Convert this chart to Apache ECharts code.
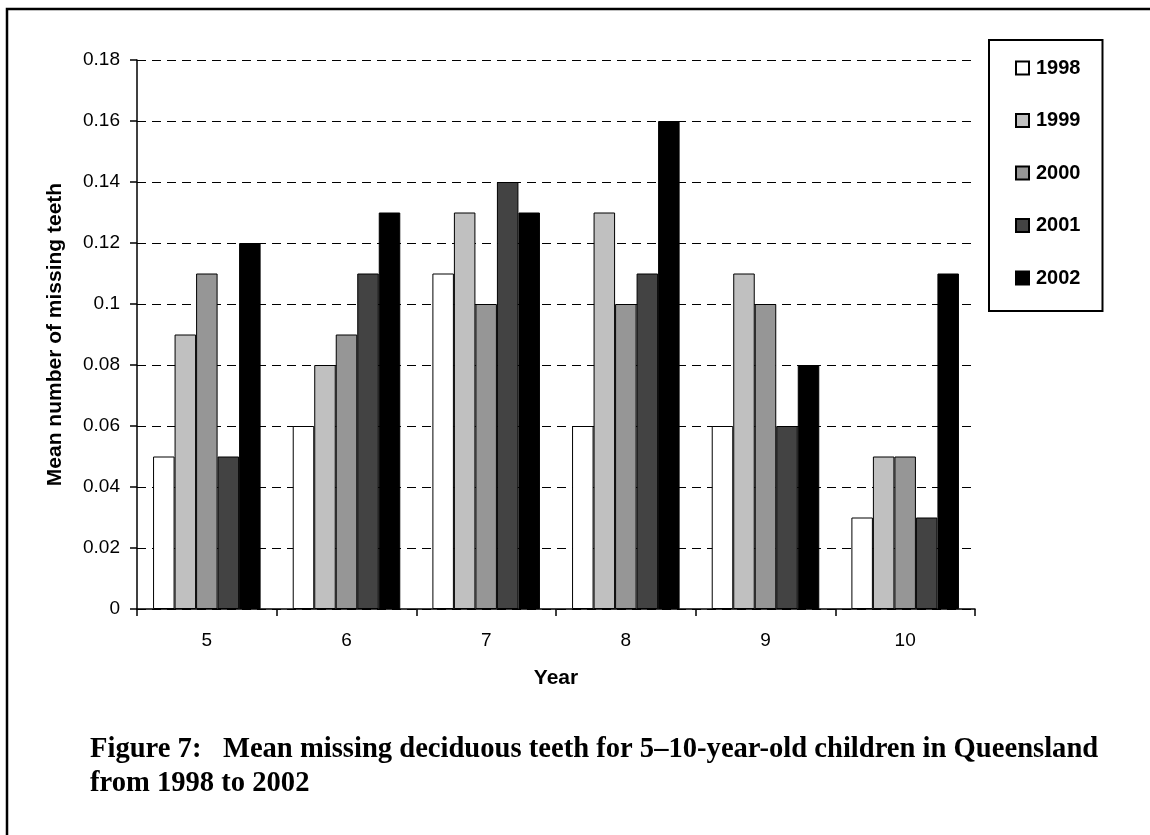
<!DOCTYPE html>
<html>
<head>
<meta charset="utf-8">
<style>
  html, body { margin: 0; padding: 0; background: #fff; }
  #chart { width: 1150px; height: 835px; }
</style>
<script src="https://cdn.jsdelivr.net/npm/echarts@6/dist/echarts.min.js"></script>
</head>
<body>
<div id="chart"></div>
<script>
// Age groups (school year) on the category axis
const years = ['5', '6', '7', '8', '9', '10'];

// Survey years, one series each
const seriesNames = ['1998', '1999', '2000', '2001', '2002'];

// Mean number of missing deciduous teeth per age group
const v1998 = [0.05, 0.06, 0.11, 0.06, 0.06, 0.03];
const v1999 = [0.09, 0.08, 0.13, 0.13, 0.11, 0.05];
const v2000 = [0.11, 0.09, 0.10, 0.10, 0.10, 0.05];
const v2001 = [0.05, 0.11, 0.14, 0.11, 0.06, 0.03];
const v2002 = [0.12, 0.13, 0.13, 0.16, 0.08, 0.11];

const seriesValues = [v1998, v1999, v2000, v2001, v2002];
const seriesColors = ['#ffffff', '#c0c0c0', '#969696', '#434343', '#000000'];

const captionLine1 = 'Figure 7:   Mean missing deciduous teeth for 5\u201310-year-old children in Queensland';
const captionLine2 = 'from 1998 to 2002';

// Size the caption font so the first line spans the intended width
const captionFamily = '"Liberation Serif", "Times New Roman", serif';
function fitFontSize(text, family, targetWidth) {
  const ctx = document.createElement('canvas').getContext('2d');
  ctx.font = 'bold 100px ' + family;
  return Math.round(100 * targetWidth / ctx.measureText(text).width * 10) / 10;
}
const captionSize = fitFontSize(captionLine1, captionFamily, 1007);
const captionFont = 'bold ' + captionSize + 'px ' + captionFamily;

const sans = 'Liberation Sans, Arial, sans-serif';

const chart = echarts.init(document.getElementById('chart'), null, { renderer: 'canvas' });

const series = seriesNames.map((name, i) => ({
  name: name,
  type: 'bar',
  data: seriesValues[i],
  barGap: '0%',
  barCategoryGap: '23%',
  itemStyle: { color: seriesColors[i], borderColor: '#000', borderWidth: 1 }
}));

chart.setOption({
  animation: false,
  backgroundColor: '#fff',
  grid: { left: 137, right: 175, top: 60, bottom: 226, containLabel: false },
  legend: {
    orient: 'vertical',
    left: 989,
    top: 40,
    data: seriesNames,
    icon: 'rect',
    itemWidth: 13,
    itemHeight: 13,
    itemGap: 32.5,
    padding: [18, 22, 23, 26],
    borderColor: '#000',
    borderWidth: 2,
    textStyle: {
      fontFamily: sans,
      fontWeight: 'bold',
      fontSize: 20,
      color: '#000',
      padding: [0, 0, 0, 2]
    },
    selectedMode: false
  },
  xAxis: {
    type: 'category',
    data: years,
    name: 'Year',
    nameLocation: 'middle',
    nameGap: 59,
    nameTextStyle: { fontFamily: sans, fontWeight: 'bold', fontSize: 21, color: '#000' },
    axisLine: { lineStyle: { color: '#000', width: 1.5 } },
    axisTick: { show: true, length: 7, inside: false, alignWithLabel: false, lineStyle: { color: '#000', width: 1.5 } },
    axisLabel: { margin: 22, fontFamily: sans, fontSize: 19, color: '#000' }
  },
  yAxis: {
    type: 'value',
    min: 0,
    max: 0.18,
    interval: 0.02,
    name: 'Mean number of missing teeth',
    nameLocation: 'middle',
    nameRotate: 90,
    nameGap: 71,
    nameTextStyle: { fontFamily: sans, fontWeight: 'bold', fontSize: 21, color: '#000' },
    axisLine: { show: true, lineStyle: { color: '#000', width: 1.5 } },
    axisTick: { show: true, length: 7, lineStyle: { color: '#000', width: 1.5 } },
    axisLabel: { margin: 17, fontFamily: sans, fontSize: 19, color: '#000' },
    splitLine: { show: true, lineStyle: { color: '#000', width: 1, type: [9, 6] } }
  },
  series: series,
  graphic: [
    {
      type: 'rect',
      silent: true,
      shape: { x: 7, y: 9, width: 1300, height: 1000 },
      style: { fill: 'none', stroke: '#000', lineWidth: 2.5 }
    },
    {
      type: 'text',
      x: 90,
      y: 750,
      style: { text: captionLine1, font: captionFont, fill: '#000', verticalAlign: 'middle' }
    },
    {
      type: 'text',
      x: 90,
      y: 784,
      style: { text: captionLine2, font: captionFont, fill: '#000', verticalAlign: 'middle' }
    }
  ]
});
</script>
</body>
</html>
